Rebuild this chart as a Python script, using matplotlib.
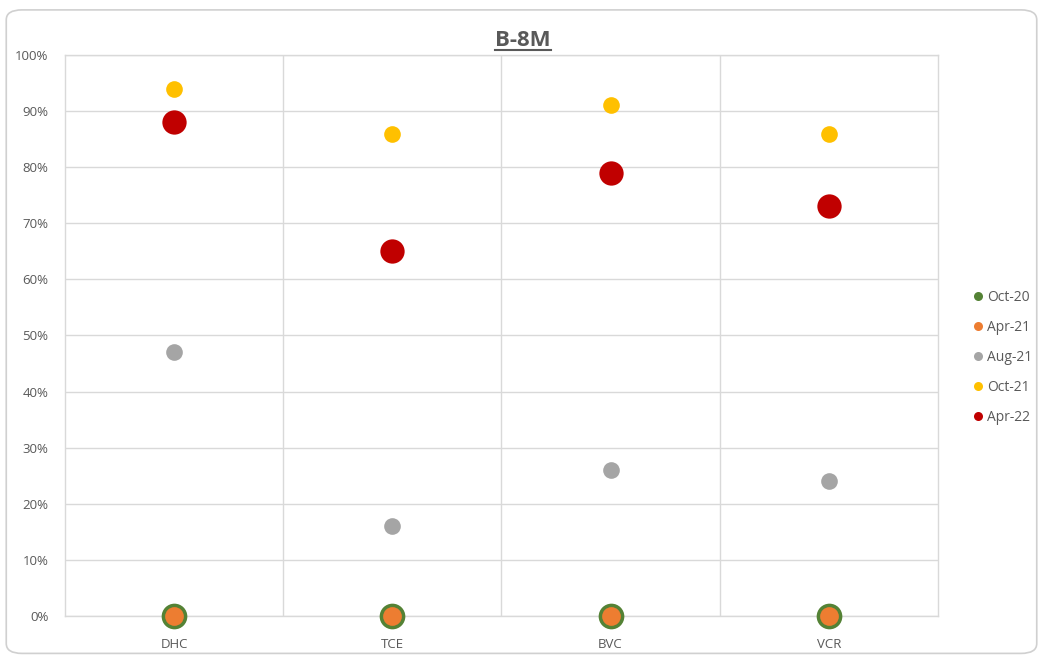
import matplotlib.pyplot as plt
from matplotlib.patches import FancyBboxPatch
from matplotlib.lines import Line2D
from matplotlib.ticker import PercentFormatter

plt.rcParams['font.family'] = ['Open Sans', 'DejaVu Sans']

# survey results per site (percent)
sites = ["DHC", "TCE", "BVC", "VCR"]
oct20 = [0, 0, 0, 0]
apr21 = [0, 0, 0, 0]
aug21 = [47, 16, 26, 24]
oct21 = [94, 86, 91, 86]
apr22 = [88, 65, 79, 73]

series = [
    ("Oct-20", oct20, "#548235", 18.5),
    ("Apr-21", apr21, "#ED7D31", 13.5),
    ("Aug-21", aug21, "#A5A5A5", 12),
    ("Oct-21", oct21, "#FFC000", 12),
    ("Apr-22", apr22, "#C00000", 17.5),
]

txt = "#595959"
grid = "#d9d9d9"

fig = plt.figure(figsize=(10.43, 6.6), dpi=100)
ax = fig.add_axes([0.0623, 0.0667, 0.837, 0.85])

x = list(range(len(sites)))
for name, vals, col, ms in series:
    ax.plot(x, vals, linestyle="none", marker="o", ms=ms, color=col,
            markeredgewidth=0, label=name, zorder=3, clip_on=False)

ax.set_xlim(-0.5, len(sites) - 0.5)
ax.set_ylim(0, 100)
ax.set_yticks(range(0, 101, 10))
ax.yaxis.set_major_formatter(PercentFormatter(decimals=0))
ax.set_xticks(x)
ax.set_xticklabels(sites)
ax.set_xticks([0.5, 1.5, 2.5], minor=True)
ax.grid(axis="y", which="major", color=grid, lw=1)
ax.grid(axis="x", which="minor", color=grid, lw=1)
ax.tick_params(which="both", length=0, labelsize=9.5, colors=txt)
ax.tick_params(axis="x", pad=16)
ax.tick_params(axis="y", pad=12)
for s in ax.spines.values():
    s.set_color(grid)
    s.set_linewidth(1)
ax.set_axisbelow(True)

# title with underline under the text extent
title = fig.text(0.5015, 0.939, "B-8M", ha="center", va="center", fontsize=16,
                 fontweight="bold", color=txt)
fig.canvas.draw()
bb = title.get_window_extent().transformed(fig.transFigure.inverted())
fig.add_artist(Line2D([bb.x0, bb.x1], [0.9245, 0.9245], color=txt, lw=1.5))

handles = [Line2D([], [], linestyle="none", marker="o", ms=6.5, color=c,
                  markeredgewidth=0) for _, _, c, _ in series]
fig.legend(handles, [n for n, _, _, _ in series], loc="center left",
           bbox_to_anchor=(0.922, 0.459), frameon=False, fontsize=10,
           labelcolor=txt, handlelength=0.6, handletextpad=0.35,
           labelspacing=1.08)

fig.add_artist(FancyBboxPatch((0.006, 0.01), 0.988, 0.975,
                              boxstyle="round,pad=0,rounding_size=0.015",
                              transform=fig.transFigure, fill=False,
                              edgecolor="#d0d0d0", lw=1.2))

fig.savefig("out.png", dpi=100)
